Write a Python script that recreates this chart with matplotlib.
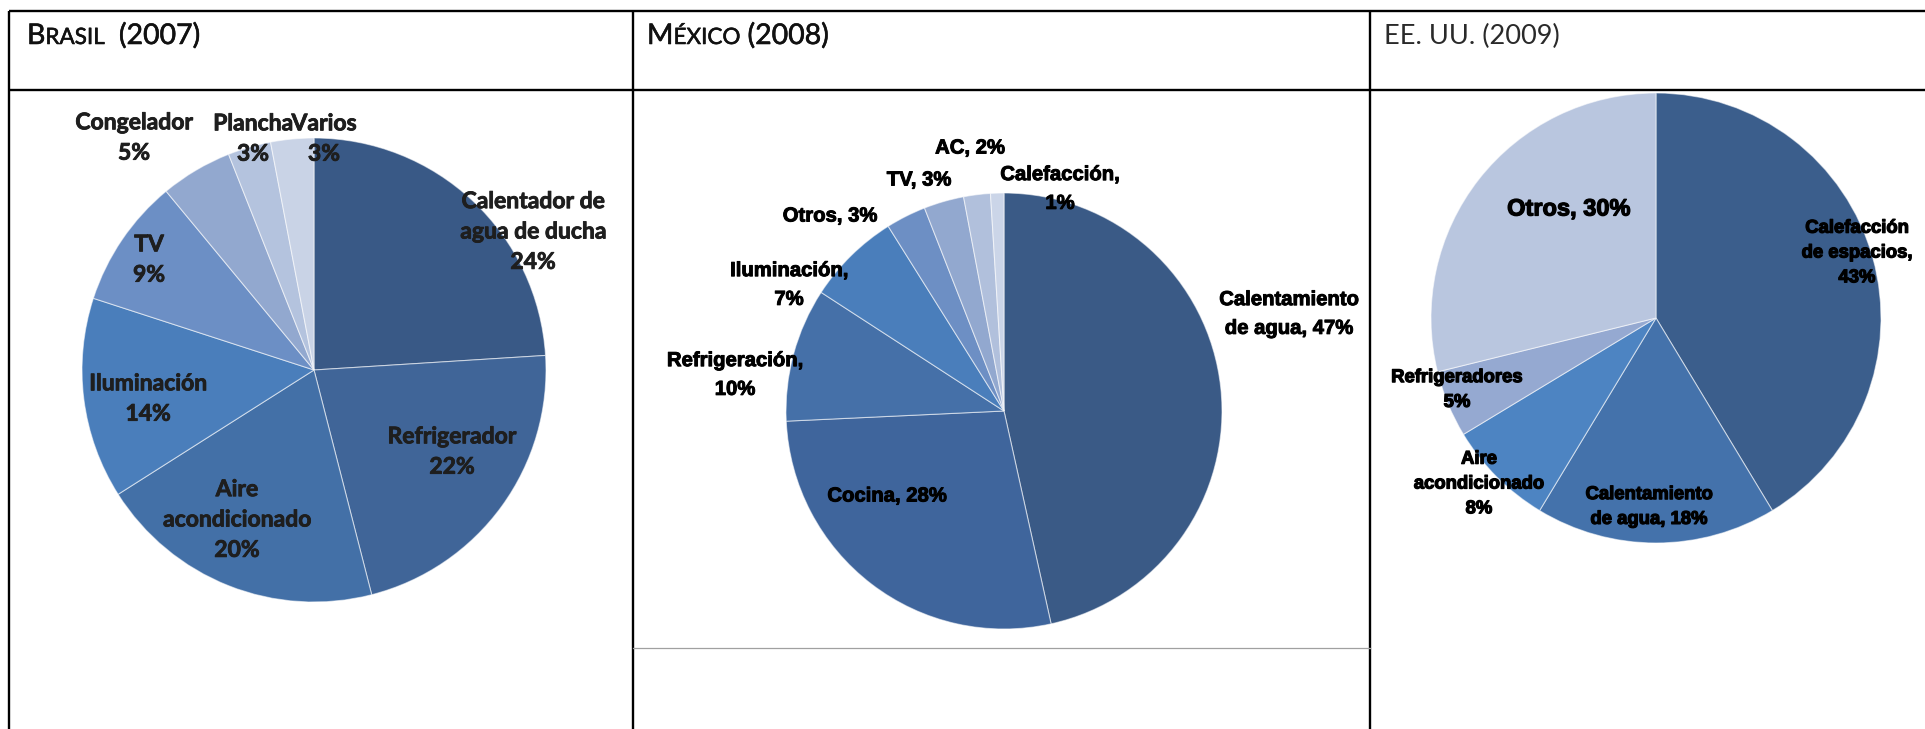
import matplotlib
matplotlib.use("Agg")
import matplotlib.pyplot as plt
from matplotlib import patheffects as pe

# ---------------- data ----------------
brasil_title = [("B", "big"), ("RASIL", "small"), ("  (2007)", "big")]
mexico_title = [("M", "big"), ("ÉXICO", "small"), (" (2008)", "big")]
eeuu_title = "EE. UU. (2009)"

brasil_categories = ["Calentador de\nagua de ducha", "Refrigerador", "Aire\nacondicionado",
                     "Iluminación", "TV", "Congelador", "Plancha", "Varios"]
brasil_values = [24, 22, 20, 14, 9, 5, 3, 3]

mexico_categories = ["Calentamiento\nde agua", "Cocina", "Refrigeración", "Iluminación",
                     "Otros", "TV", "AC", "Calefacción"]
mexico_values = [47, 28, 10, 7, 3, 3, 2, 1]

eeuu_categories = ["Calefacción\nde espacios", "Calentamiento\nde agua", "Aire\nacondicionado",
                   "Refrigeradores", "Otros"]
eeuu_values = [43, 18, 8, 5, 30]

# ---------------- style / layout ----------------
W, H, DPI = 1925, 729, 100
fig = plt.figure(figsize=(W / DPI, H / DPI), dpi=DPI)
ax = fig.add_axes([0, 0, 1, 1])

brasil_colors = ["#395986", "#406598", "#4370A7", "#4A7EBB", "#6C8FC5", "#92A8CF", "#B4C3DE", "#C9D3E6"]
mexico_colors = ["#3A5A86", "#3F659C", "#4570A8", "#4A7EBB", "#6D8FC4", "#92A8CF", "#B1C0DC", "#CBD5E8"]
eeuu_colors = ["#3B5E8C", "#4472AB", "#4D84C2", "#95A9D1", "#B9C6DF"]

brasil_seps = ["\n"] * 8
mexico_seps = [", ", ", ", ",\n", ",\n", ", ", ", ", ", ", ",\n"]
eeuu_seps = [",\n", ", ", "\n", "\n", ", "]

# label centres (pixel coords, y from top)
brasil_pos = [(533, 232), (452, 452), (237, 520), (148, 399), (149, 260), (134, 138), (253, 139), (324, 139)]
mexico_pos = [(1289, 314), (887, 496), (735, 375), (789, 285), (830, 216), (919, 180), (970, 148), (1060, 189)]
eeuu_pos = [(1857, 253), (1649, 507), (1479, 484), (1457, 390), (1569, 209)]

wedge_kw = dict(edgecolor=(1, 1, 1, 0.55), linewidth=0.8)


def Y(y):
    return H - y


def draw_pie(values, colors, cx, cy, r):
    ax.pie(values, colors=colors, startangle=90, counterclock=False,
           center=(cx, Y(cy)), radius=r, frame=True, wedgeprops=wedge_kw)


draw_pie(brasil_values, brasil_colors, 314, 370, 232)
draw_pie(mexico_values, mexico_colors, 1004, 411, 218)
draw_pie(eeuu_values, eeuu_colors, 1656, 318, 225)

ax.set_xlim(0, W)
ax.set_ylim(0, H)
ax.set_aspect("auto")
ax.axis("off")

# labels
for c, v, s, (x, y) in zip(brasil_categories, brasil_values, brasil_seps, brasil_pos):
    ax.text(x, Y(y), f"{c}{s}{v}%", ha="center", va="center", multialignment="center",
            fontsize=16.5, family="Lato", fontweight="bold", color="#1e1e1e", linespacing=1.55,
            path_effects=[pe.withStroke(linewidth=0.6, foreground="#1e1e1e")])

for c, v, s, (x, y) in zip(mexico_categories, mexico_values, mexico_seps, mexico_pos):
    ax.text(x, Y(y), f"{c}{s}{v}%", ha="center", va="center", multialignment="center",
            fontsize=14.6, family="Liberation Sans", fontweight="bold", color="black", linespacing=1.65,
            path_effects=[pe.withStroke(linewidth=0.7, foreground="black")])

for c, v, s, (x, y) in zip(eeuu_categories, eeuu_values, eeuu_seps, eeuu_pos):
    size = 17 if c == "Otros" else 13.3
    ax.text(x, Y(y), f"{c}{s}{v}%", ha="center", va="center", multialignment="center",
            fontsize=size, family="Liberation Sans", fontweight="bold", color="black", linespacing=1.6,
            path_effects=[pe.withStroke(linewidth=0.9, foreground="black")])

# table lines
LW = 1.7
top_y, head_y = 11, 90
col_x = [9, 633, 1370]
ax.plot([col_x[0], W], [Y(top_y), Y(top_y)], color="black", lw=LW, clip_on=False, solid_capstyle="butt")
ax.plot([col_x[0], W], [Y(head_y), Y(head_y)], color="black", lw=LW, clip_on=False, solid_capstyle="butt")
for x in col_x:
    ax.plot([x, x], [Y(top_y), 0], color="black", lw=LW, clip_on=False, solid_capstyle="butt")
ax.plot([col_x[1], col_x[2]], [Y(648), Y(648)], color="#a0a0a0", lw=0.9)

# titles (small caps)
renderer = fig.canvas.get_renderer()
sizes = {"big": 20.5, "small": 16.2}


def draw_smallcaps(x, y, segs):
    for s, kind in segs:
        t = ax.text(x, Y(y), s, fontsize=sizes[kind], family="Lato", color="#111111",
                    ha="left", va="baseline",
                    path_effects=[pe.withStroke(linewidth=0.4, foreground="#111111")])
        x += t.get_window_extent(renderer=renderer).width


draw_smallcaps(27, 44, brasil_title)
draw_smallcaps(647, 44, mexico_title)
ax.text(1384, Y(44), eeuu_title, fontsize=19.5, family="Lato", fontweight="normal",
        color="#2a2a2a", ha="left", va="baseline")

fig.savefig("out.png", dpi=DPI)
